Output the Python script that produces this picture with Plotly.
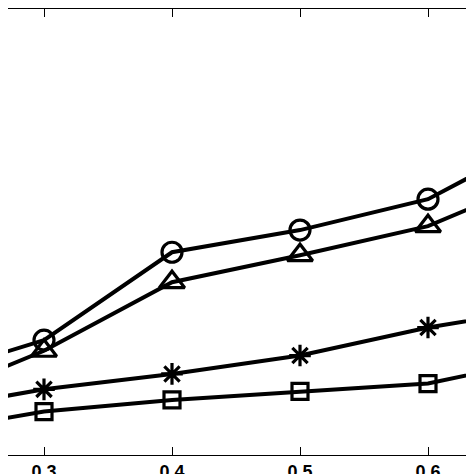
import plotly.graph_objects as go

x_vals = [0.2, 0.3, 0.4, 0.5, 0.6, 0.7]
circle_y = [0.78, 1.19, 2.10, 2.33, 2.65, 3.35]
triangle_y = [0.53, 1.08, 1.79, 2.07, 2.37, 2.93]
star_y = [0.45, 0.68, 0.84, 1.03, 1.32, 1.54]
square_y = [0.22, 0.45, 0.57, 0.66, 0.74, 1.02]

series = [
    (circle_y, "circle-open", 20),
    (triangle_y, "triangle-up-open", 22),
    (star_y, "asterisk-open", 18),
    (square_y, "square-open", 16),
]

fig = go.Figure()
for ys, sym, size in series:
    fig.add_trace(go.Scatter(
        x=x_vals, y=ys, mode="lines+markers",
        line=dict(color="black", width=4),
        marker=dict(symbol=sym, size=size, color="black",
                    line=dict(color="black", width=3.2)),
        showlegend=False, cliponaxis=True,
    ))

fig.update_layout(
    width=474, height=474,
    margin=dict(l=0, r=0, t=0, b=12),
    plot_bgcolor="white", paper_bgcolor="white",
    font=dict(family="Liberation Sans", size=18, color="black"),
)
fig.update_xaxes(
    range=[0.3 - 36 / 1280, 0.3 + 438 / 1280],
    tickvals=[0.3, 0.4, 0.5, 0.6],
    ticktext=["<b>0.3</b>", "<b>0.4</b>", "<b>0.5</b>", "<b>0.6</b>"],
    ticks="inside", ticklen=8, tickcolor="black", tickwidth=1,
    showline=True, linecolor="black", linewidth=1, mirror="ticks",
    showgrid=False, zeroline=False,
)
fig.update_yaxes(
    range=[0, 4.62], showticklabels=False, showgrid=False, zeroline=False,
)
fig.write_html("out.html")
